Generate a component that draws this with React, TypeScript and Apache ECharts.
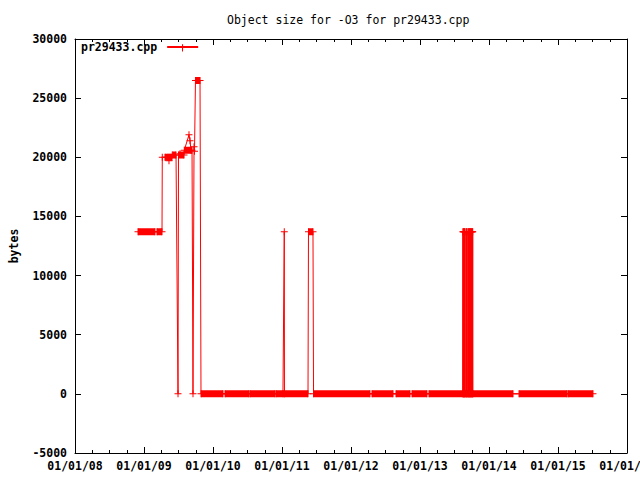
import { useEffect, useRef } from "react";
import * as echarts from "echarts";

const chartTitle = "Object size for -O3 for pr29433.cpp";
const seriesName = "pr29433.cpp";
const yAxisTitle = "bytes";

const xMin = 2008;
const xMax = 2016;
const yMin = -5000;
const yMax = 30000;
const yStep = 5000;

// measurement dates (decimal year) and object size in bytes
const sizeDates = [
  2008.913, 2009.159, 2009.188, 2009.261, 2009.265, 2009.304, 2009.348, 2009.362,
  2009.377, 2009.406, 2009.41, 2009.464, 2009.493, 2009.5,
  2009.522, 2009.58, 2009.584, 2009.652, 2009.667, 2009.681, 2009.696, 2009.71,
  2009.725, 2009.732, 2009.746, 2009.812, 2009.826,
  2010.145, 2010.174, 2010.522, 2010.536, 2010.899, 2010.913,
  2011.014, 2011.033, 2011.036,
  2011.377, 2011.384, 2011.449, 2011.457,
  2012.275, 2012.304, 2012.609, 2012.652, 2012.855, 2012.884, 2013.101, 2013.13,
  2013.619, 2013.622, 2013.625, 2013.628, 2013.631, 2013.634, 2013.637, 2013.64,
  2013.643, 2013.646, 2013.649, 2013.652, 2013.654,
  2013.667, 2013.67, 2013.673, 2013.676, 2013.679, 2013.682, 2013.685,
  2013.696, 2013.699, 2013.702, 2013.705, 2013.708, 2013.711, 2013.714, 2013.717,
  2013.72, 2013.723, 2013.726, 2013.729, 2013.732, 2013.735, 2013.738, 2013.741,
  2013.744, 2013.747, 2013.75, 2013.753, 2013.756, 2013.759, 2013.762, 2013.764,
  2013.766,
  2014.348, 2014.435, 2015.13, 2015.145, 2015.507,
];
const sizeBytes = [
  13700, 13700, 13700, 13700, 20000, 20000, 20000, 19700,
  20000, 20000, 20200, 20200, 0, 20200,
  20300, 20200, 20600, 21900, 21400, 20600, 20600, 0,
  20900, 20500, 26500, 26500, 0,
  0, 0, 0, 0, 0, 0,
  0, 13700, 0,
  0, 13700, 13700, 0,
  0, 0, 0, 0, 0, 0, 0, 0,
  0, 13700, 0, 13700, 0, 13700, 0, 13700,
  0, 13700, 0, 13700, 0,
  0, 13700, 0, 13700, 0, 13700, 0,
  0, 13700, 0, 13700, 0, 13700, 0, 13700,
  0, 13700, 0, 13700, 0, 13700, 0, 13700,
  0, 13700, 0, 13700, 0, 13700, 0, 13700,
  0,
  0, 0, 0, 0, 0,
];

// stretches of near-daily measurements at a constant size (they merge into solid bars)
const denseStart = [
  2008.913, 2009.188, 2009.304, 2009.41, 2009.5, 2009.584, 2009.746,
  2009.826, 2010.174, 2010.536, 2010.913, 2011.384, 2011.457, 2012.304,
  2012.652, 2012.884, 2013.13, 2014.435, 2015.145,
];
const denseEnd = [
  2009.159, 2009.261, 2009.406, 2009.464, 2009.58, 2009.696, 2009.812,
  2010.145, 2010.522, 2010.899, 2011.377, 2011.449, 2012.275, 2012.609,
  2012.855, 2013.101, 2014.348, 2015.13, 2015.507,
];
const denseBytes = [
  13700, 13700, 20000, 20200, 20200, 20600, 26500,
  0, 0, 0, 0, 13700, 0, 0,
  0, 0, 0, 0, 0,
];

const RED = "#ff0000";
const FONT = "DejaVu Sans Mono";
const PLUS = "path://M3,0H4V3H7V4H4V7H3V4H0V3H3Z";

export default function App() {
  const ref = useRef<HTMLDivElement>(null);
  useEffect(() => {
    if (!ref.current) return;
    const chart = echarts.init(ref.current, undefined, { renderer: "svg" });
    const labelStyle = {
      color: "#000",
      fontFamily: FONT,
      fontSize: 11.5,
      fontWeight: "bold" as const,
    };
    const xFmt = (v: number) => "01/01/" + String(Math.round(v) % 100).padStart(2, "0");
    const baseX = {
      type: "value" as const,
      min: xMin,
      max: xMax,
      interval: 1,
      axisLine: { show: true, onZero: false, lineStyle: { color: "#000", width: 1 } },
      axisTick: { show: true, inside: true, length: 6, lineStyle: { color: "#000" } },
      minorTick: { show: true, splitNumber: 4, length: 3, lineStyle: { color: "#000" } },
      splitLine: { show: false },
      minorSplitLine: { show: false },
    };
    const baseY = {
      type: "value" as const,
      min: yMin,
      max: yMax,
      interval: yStep,
      axisLine: { show: true, onZero: false, lineStyle: { color: "#000", width: 1 } },
      axisTick: { show: true, inside: true, length: 6, lineStyle: { color: "#000" } },
      splitLine: { show: false },
    };
    const bandSeries = denseStart.map((s, i) => ({
      type: "line" as const,
      name: "dense" + i,
      data: [
        [s, denseBytes[i]],
        [denseEnd[i], denseBytes[i]],
      ],
      symbol: "none",
      silent: true,
      z: 2,
      lineStyle: { color: RED, width: 7, cap: "butt" as const },
    }));
    chart.setOption({
      animation: false,
      backgroundColor: "#fff",
      title: {
        text: chartTitle,
        left: 222,
        top: 9,
        textStyle: { color: "#000", fontFamily: FONT, fontSize: 11.5, fontWeight: "normal" },
      },
      legend: {
        data: [seriesName],
        left: 81,
        top: 41,
        padding: 0,
        align: "right",
        itemWidth: 31,
        itemHeight: 7,
        selectedMode: false,
        textStyle: { ...labelStyle, padding: [0, 5, 0, 0] },
      },
      graphic: [
        {
          type: "rect",
          silent: true,
          z: 100,
          shape: { x: 182, y: 44.5, width: 1, height: 7 },
          style: { fill: RED },
        },
      ],
      grid: {
        left: 75,
        right: 13,
        top: 39,
        bottom: 27,
        containLabel: false,
        outerBoundsMode: "none",
      },
      xAxis: [
        {
          ...baseX,
          position: "bottom",
          axisLabel: { ...labelStyle, margin: 7, formatter: xFmt },
        },
        {
          ...baseX,
          position: "top",
          axisLabel: { show: false },
        },
      ],
      yAxis: [
        {
          ...baseY,
          position: "left",
          name: yAxisTitle,
          nameLocation: "middle",
          nameGap: 55,
          nameRotate: 90,
          nameTextStyle: labelStyle,
          axisLabel: { ...labelStyle, margin: 8, formatter: (v: number) => String(v) },
        },
        {
          ...baseY,
          position: "right",
          axisLabel: { show: false },
        },
      ],
      series: [
        ...bandSeries,
        {
          type: "line",
          name: seriesName,
          data: sizeDates.map((d, i) => [d, sizeBytes[i]]),
          symbol: PLUS,
          symbolSize: 7,
          showSymbol: true,
          z: 3,
          itemStyle: { color: RED },
          lineStyle: { color: RED, width: 1 },
        },
      ],
    });
    return () => chart.dispose();
  }, []);
  return (
    <div
      ref={ref}
      style={{ position: "fixed", left: 0, top: 0, width: 640, height: 480 }}
    />
  );
}
